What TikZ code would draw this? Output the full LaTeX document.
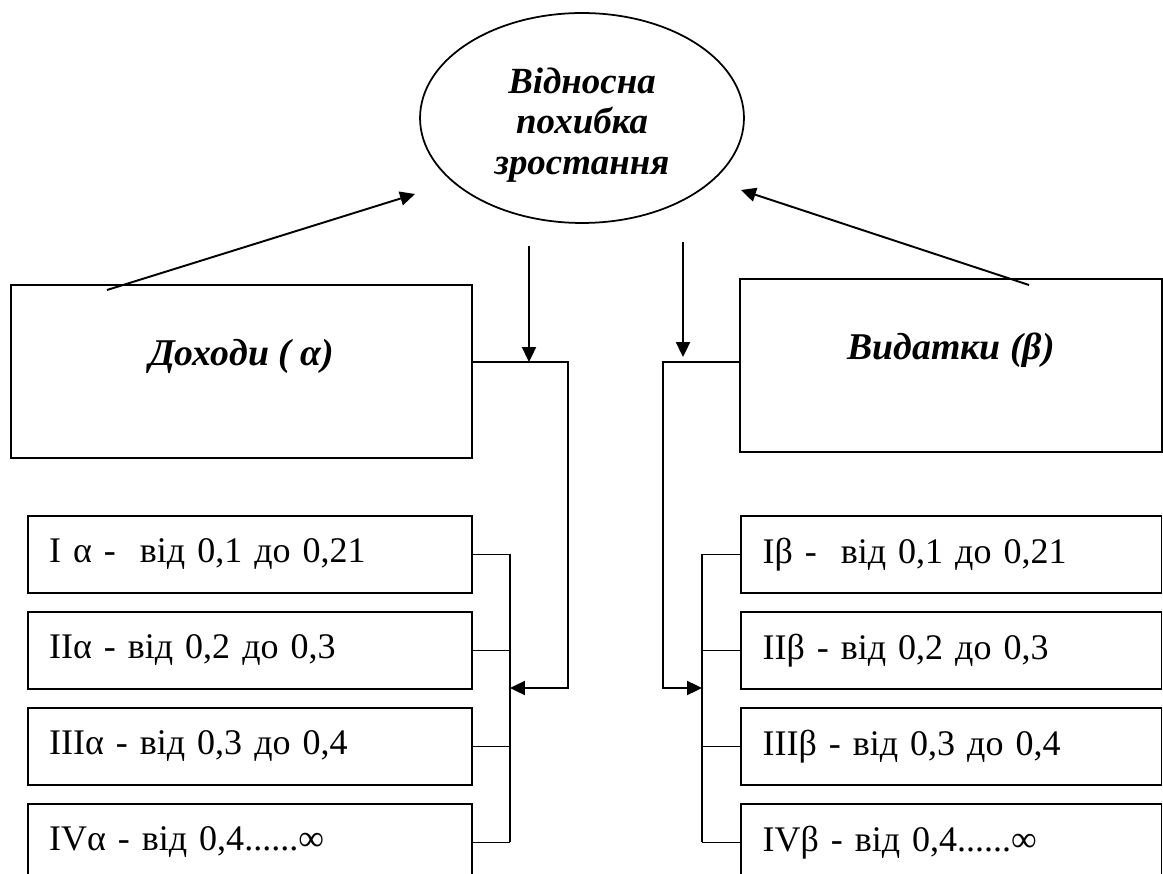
\documentclass[tikz,border=0pt]{standalone}
\usepackage{fontspec}
\setmainfont{Liberation Serif}
\usetikzlibrary{arrows.meta, positioning, shapes.geometric}

\begin{document}
\begin{tikzpicture}[x=0.02cm, y=-0.02cm, node distance=1.92cm, on grid,
    >={Triangle[length=8.5pt, width=8pt]},
    oval/.style={ellipse, draw, line width=1pt, minimum width=6.48cm, minimum height=4.2cm},
    ovaltext/.style={yshift=-0.14cm, align=center, font=\fontsize{21}{23}\selectfont\bfseries\itshape},
    bigbox/.style={rectangle, draw, line width=1.1pt, minimum height=3.46cm},
    bigtext/.style={yshift=0.3cm, font=\fontsize{21.5}{24}\selectfont\bfseries\itshape},
    smallbox/.style={rectangle, draw, line width=1.1pt, minimum height=1.54cm,
        align=left, font=\fontsize{20.5}{24}\selectfont},
    leftbox/.style={smallbox, inner xsep=0.42cm, text width=8.04cm},
    rightbox/.style={smallbox, inner xsep=0.44cm, text width=7.54cm},
    bus/.style={line width=0.8pt},
    link/.style={->, line width=1.1pt}]
   \useasboundingbox (0,0) rectangle (1163,874);
   \clip (0,0) rectangle (1163,874);

   \node[oval, label={[ovaltext]center:Відносна\\похибка\\зростання}] (vid) at (582,118) {};
   \node[bigbox, minimum width=9.22cm, label={[bigtext]center:Доходи ( α)}] (doh) at (241.5,371.5) {};
   \node[bigbox, minimum width=8.44cm, label={[bigtext]center:Видатки (β)}] (vyd) at (951,365.5) {};

   \node[leftbox] (a_1) at (250,554.5) {I α -~ від 0,1 до 0,21};
   \node[leftbox] (a_2) [below=of a_1] {IIα - від 0,2 до 0,3};
   \node[leftbox] (a_3) [below=of a_2] {IIIα - від 0,3 до 0,4};
   \node[leftbox] (a_4) [below=of a_3] {IVα - від 0,4......∞};

   \node[rightbox] (b_1) at (951,554.5) {Iβ -~ від 0,1 до 0,21};
   \node[rightbox] (b_2) [below=of b_1] {IIβ - від 0,2 до 0,3};
   \node[rightbox] (b_3) [below=of b_2] {IIIβ - від 0,3 до 0,4};
   \node[rightbox] (b_4) [below=of b_3] {IVβ - від 0,4......∞};

   \coordinate (d_0) at (107,290);
   \coordinate (d_1) at (415,194);
   \coordinate (v_0) at (1029,285);
   \coordinate (v_1) at (741,190);
   \coordinate (k_0) at (529,246);
   \coordinate (k_0e) at (529,362);
   \coordinate (k_1) at (683,242);
   \coordinate (k_1e) at (683,357);
   \coordinate (a_bus) at (510,688);
   \coordinate (b_bus) at (702,688);

   \draw[link] (d_0) -- (d_1);
   \draw[link] (v_0) -- (v_1);
   \draw[link] (k_0) -- (k_0e);
   \draw[link] (k_1) -- (k_1e);

   \draw[link] (k_0e -| doh.east) -| (568,688) -- (a_bus);
   \draw[link] (k_0e -| vyd.west) -| (663,688) -- (b_bus);

   \foreach \i in {1,...,4} {
      \draw[bus] (a_\i.east) -- (a_\i.east -| a_bus);
      \draw[bus] (b_\i.west) -- (b_\i.west -| b_bus);
   }
   \draw[bus] (a_1.east -| a_bus) -- (a_4.east -| a_bus);
   \draw[bus] (b_1.west -| b_bus) -- (b_4.west -| b_bus);
\end{tikzpicture}
\end{document}
